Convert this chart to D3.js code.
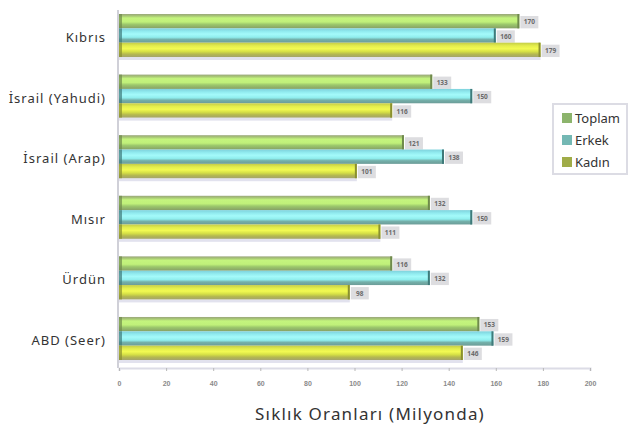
<!DOCTYPE html>
<html>
<head>
<meta charset="utf-8">
<script src="https://cdn.jsdelivr.net/npm/d3@7"></script>
<style>
  body { margin: 0; background: #fff; }
  svg { display: block; font-family: "Noto Sans", "DejaVu Sans", sans-serif; }
</style>
</head>
<body>
<div id="chart"></div>
<script>
var categories = ["Kıbrıs", "İsrail (Yahudi)", "İsrail (Arap)", "Mısır", "Ürdün", "ABD (Seer)"];
var seriesNames = ["Toplam", "Erkek", "Kadın"];
var toplam = [170, 133, 121, 132, 116, 153];
var erkek  = [160, 150, 138, 150, 132, 159];
var kadin  = [179, 116, 101, 111, 98, 146];
var xTicks = [0, 20, 40, 60, 80, 100, 120, 140, 160, 180, 200];
var xTitle = "Sıklık Oranları (Milyonda)";

var values = [toplam, erkek, kadin];

var W = 630, H = 432;
var svg = d3.select("#chart").append("svg")
    .attr("width", W)
    .attr("height", H);

var x = d3.scaleLinear().domain([0, 200]).range([119, 590]);
var y0 = d3.scaleBand().domain(categories).range([14, 360]).paddingInner(0.29).paddingOuter(0);
var y1 = d3.scaleBand().domain(seriesNames).range([0, y0.bandwidth()]);

// cylinder-ish gradients per series
var grads = {
  "Toplam": [["0%", "#9aa67c"], ["14%", "#a8c874"], ["28%", "#c4f47e"], ["55%", "#c0f07a"], ["72%", "#9cc86c"], ["100%", "#86a066"]],
  "Erkek":  [["0%", "#7ed2dc"], ["22%", "#92ecf0"], ["40%", "#a4fafa"], ["62%", "#90eeee"], ["78%", "#74b0aa"], ["100%", "#6c9c98"]],
  "Kadın":  [["0%", "#c4cc48"], ["22%", "#e4ee4c"], ["42%", "#f2fa52"], ["62%", "#d6e046"], ["80%", "#b4b850"], ["100%", "#a4a46c"]]
};
var caps = {"Toplam": "#6f8a4c", "Erkek": "#3f7a7a", "Kadın": "#8a9030"};
var swatch = {"Toplam": "#8cb46c", "Erkek": "#74b8b4", "Kadın": "#a0ac48"};

var defs = svg.append("defs");
seriesNames.forEach(function(s, i) {
  var g = defs.append("linearGradient")
      .attr("id", "g" + i)
      .attr("x1", 0).attr("y1", 0).attr("x2", 0).attr("y2", 1);
  grads[s].forEach(function(st) {
    g.append("stop").attr("offset", st[0]).attr("stop-color", st[1]);
  });
});

// left axis line
svg.append("rect")
    .attr("x", x(0) - 2).attr("y", 10)
    .attr("width", 2).attr("height", 358)
    .attr("fill", "#d0d0d8");

// bottom axis
var xAxis = d3.axisBottom(x).tickValues(xTicks).tickSize(3).tickPadding(10);
var axG = svg.append("g")
    .attr("transform", "translate(0,368)")
    .call(xAxis);
axG.select(".domain").attr("stroke", "#dcdce6").attr("stroke-width", 2);
axG.selectAll(".tick line").attr("stroke", "#b8b8b8");
axG.selectAll(".tick text")
    .attr("fill", "#8a8a8a")
    .attr("font-size", 7)
    .attr("font-weight", "bold");

var groups = svg.selectAll("g.grp")
    .data(categories)
    .enter().append("g")
    .attr("class", "grp")
    .attr("transform", function(d) { return "translate(0," + y0(d) + ")"; });

// soft shadow under each group
groups.append("rect")
    .attr("x", x(0))
    .attr("y", y0.bandwidth())
    .attr("width", function(d, ci) { return x(kadin[ci]) - x(0); })
    .attr("height", 3)
    .attr("fill", "#e2e2ee");

seriesNames.forEach(function(s, si) {
  var bh = y1.bandwidth();
  groups.append("rect")
      .attr("x", x(0))
      .attr("y", y1(s))
      .attr("width", function(d, ci) { return x(values[si][ci]) - x(0); })
      .attr("height", bh)
      .attr("fill", "url(#g" + si + ")");
  // left cap
  groups.append("rect")
      .attr("x", x(0))
      .attr("y", y1(s))
      .attr("width", 3)
      .attr("height", bh)
      .attr("fill", caps[s])
      .attr("opacity", 0.7);
  // right cap
  groups.append("rect")
      .attr("x", function(d, ci) { return x(values[si][ci]) - 2; })
      .attr("y", y1(s))
      .attr("width", 2)
      .attr("height", bh)
      .attr("fill", caps[s]);
  // value label
  var lab = groups.append("g")
      .attr("transform", function(d, ci) {
        return "translate(" + (x(values[si][ci]) + 1) + "," + (y1(s) + 2) + ")";
      });
  lab.append("rect")
      .attr("width", 18).attr("height", bh - 2)
      .attr("fill", "#d4d4d8")
      .attr("opacity", 0.8);
  lab.append("text")
      .attr("x", 9).attr("y", (bh - 2) / 2)
      .attr("dy", "0.35em")
      .attr("text-anchor", "middle")
      .attr("font-size", 6.5)
      .attr("font-weight", "bold")
      .attr("fill", "#6a6a6a")
      .text(function(d, ci) { return values[si][ci]; });
});

// category labels
svg.selectAll("text.cat")
    .data(categories)
    .enter().append("text")
    .attr("class", "cat")
    .attr("x", 106)
    .attr("y", function(d) { return y0(d) + y0.bandwidth() / 2 + 2; })
    .attr("dy", "0.35em")
    .attr("text-anchor", "end")
    .attr("font-size", 13)
    .attr("letter-spacing", 1)
    .attr("fill", "#333")
    .text(function(d) { return d; });

// axis title
svg.append("text")
    .attr("x", 370)
    .attr("y", 414)
    .attr("dy", "0.35em")
    .attr("text-anchor", "middle")
    .attr("font-size", 17)
    .attr("letter-spacing", 1.2)
    .attr("fill", "#333")
    .text(xTitle);

// legend
var leg = svg.append("g").attr("transform", "translate(553,104)");
leg.append("rect")
    .attr("width", 74).attr("height", 70)
    .attr("fill", "#fff")
    .attr("stroke", "#dcdce4")
    .attr("stroke-width", 2);
seriesNames.forEach(function(s, i) {
  var ly = 14 + i * 22;
  leg.append("rect")
      .attr("x", 9).attr("y", ly - 5)
      .attr("width", 10).attr("height", 10)
      .attr("fill", swatch[s]);
  leg.append("text")
      .attr("x", 22).attr("y", ly)
      .attr("dy", "0.35em")
      .attr("font-size", 13)
      .attr("fill", "#333")
      .text(s);
});
</script>
</body>
</html>
